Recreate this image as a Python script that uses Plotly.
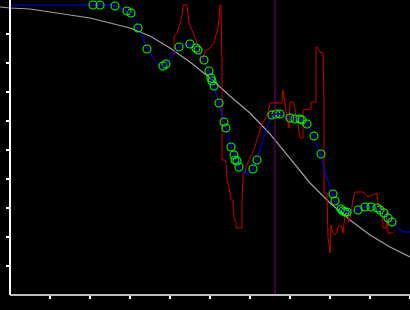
import plotly.graph_objects as go

# Smooth reference curve (gray)
gray_x = [-0.25, 0, 0.5, 1, 1.5, 2, 2.5, 3, 3.5, 4, 4.5, 5, 5.5, 6, 6.5, 7, 7.5, 8, 8.5, 9, 9.5, 10]
gray_y = [9.931, 9.897, 9.862, 9.759, 9.655, 9.552, 9.379, 9.207, 8.931, 8.517, 8.034, 7.483,
          6.862, 6.276, 5.552, 4.724, 3.862, 3.172, 2.586, 2.069, 1.655, 1.310]

# Fitted curve (blue)
blue_x = [0, 2.0, 2.5, 2.7, 2.875, 3.025, 3.15, 3.25, 3.425, 3.575, 3.7, 3.8, 3.9, 4.05, 4.225,
          4.375, 4.525, 4.675, 4.85, 5.0, 5.1, 5.225, 5.35, 5.45, 5.55, 5.675, 5.8, 5.925, 6.05,
          6.175, 6.3, 6.425, 6.55, 6.7, 6.875, 7.125, 7.325, 7.45, 7.6, 7.75, 7.9, 8.05, 8.175,
          8.3, 8.425, 8.55, 8.7, 8.9, 9.05, 9.2, 9.4, 9.575, 9.75, 9.875, 10.0]
blue_y = [10.0, 10.0, 10.0, 9.931, 9.828, 9.69, 9.414, 9.069, 8.517, 8.172, 7.966, 7.862, 7.931,
          8.241, 8.552, 8.655, 8.621, 8.448, 8.103, 7.655, 7.207, 6.621, 5.966, 5.552, 5.0,
          4.552, 4.241, 4.172, 4.31, 4.655, 5.241, 5.793, 6.172, 6.241, 6.172, 6.069, 6.034,
          5.862, 5.448, 4.862, 4.138, 3.483, 3.138, 2.897, 2.828, 2.897, 2.966, 3.034, 3.034,
          2.966, 2.759, 2.517, 2.241, 2.172, 2.172]

# Sample points (green circles)
pts_x = [2.075, 2.25, 2.625, 2.925, 3.025, 3.2, 3.425, 3.825, 3.9, 4.225, 4.5, 4.65, 4.7, 4.85,
         4.975, 5.025, 5.05, 5.1, 5.225, 5.35, 5.4, 5.525, 5.6, 5.625, 5.675, 5.725, 6.075,
         6.175, 6.55, 6.65, 6.75, 7.0, 7.125, 7.25, 7.3, 7.425, 7.6, 7.775, 8.075, 8.125,
         8.275, 8.325, 8.375, 8.425, 8.7, 8.875, 9.025, 9.175, 9.25, 9.35, 9.45, 9.55]
pts_y = [10.0, 10.0, 9.966, 9.793, 9.724, 9.207, 8.483, 7.897, 7.966, 8.552, 8.655, 8.517,
         8.448, 8.103, 7.724, 7.483, 7.379, 7.207, 6.621, 5.966, 5.759, 5.103, 4.828, 4.655,
         4.621, 4.414, 4.345, 4.655, 6.207, 6.241, 6.241, 6.103, 6.069, 6.069, 6.034, 5.897,
         5.483, 4.862, 3.483, 3.241, 2.966, 2.897, 2.862, 2.862, 2.931, 3.034, 3.034, 3.0,
         2.931, 2.828, 2.655, 2.517]

# Noisy measurement (red)
red_x = [4.1, 4.1, 4.175, 4.2, 4.25, 4.3, 4.325, 4.425, 4.45, 4.475, 4.525, 4.575, 4.625, 4.675,
         4.725, 4.75, 4.775, 4.825, 4.85, 4.9, 4.975, 5.05, 5.1, 5.15, 5.175, 5.2, 5.225, 5.25,
         5.275, 5.3, 5.3, 5.375, 5.4, 5.425, 5.475, 5.525, 5.575, 5.6, 5.65, 5.65, 5.8, 5.8,
         5.825, 5.875, 5.95, 6.075, 6.175, 6.25, 6.325, 6.425, 6.475, 6.5, 6.8, 6.825, 6.85,
         6.875, 6.925, 6.975, 7.0, 7.075, 7.125, 7.15, 7.2, 7.25, 7.325, 7.325, 7.525, 7.525,
         7.65, 7.65, 7.675, 7.75, 7.825, 7.85, 7.85, 7.925, 7.95, 8.0, 8.025, 8.075, 8.125,
         8.175, 8.2, 8.25, 8.3, 8.325, 8.375, 8.425, 8.475, 8.525, 8.575, 8.625, 8.825, 8.95,
         9.175, 9.2, 9.25, 9.3, 9.325, 9.4, 9.425, 9.45, 9.575]
red_y = [8.276, 8.897, 9.034, 9.138, 9.345, 9.655, 10.0, 10.0, 9.655, 9.379, 9.207, 9.034,
         8.862, 8.69, 8.517, 8.345, 8.034, 8.034, 8.276, 8.448, 8.483, 8.621, 8.69, 8.966,
         9.138, 9.207, 9.552, 10.0, 10.0, 8.034, 4.655, 4.655, 4.586, 3.966, 3.724, 3.276,
         3.276, 2.69, 2.517, 2.31, 2.31, 3.276, 4.138, 4.241, 4.586, 4.931, 5.345, 5.69, 5.931,
         6.207, 6.448, 6.621, 6.621, 7.069, 6.828, 6.552, 6.138, 5.759, 6.655, 6.655, 6.448,
         6.034, 5.931, 5.414, 5.414, 6.379, 6.414, 6.655, 6.655, 8.552, 8.552, 8.379, 8.345,
         6.724, 3.517, 3.517, 2.0, 1.448, 2.414, 2.138, 2.069, 2.172, 2.345, 2.414, 2.31,
         2.138, 2.759, 2.931, 2.517, 2.828, 3.276, 3.552, 3.552, 3.379, 3.517, 3.172, 2.862,
         3.103, 2.31, 2.31, 2.931, 2.138, 2.138]

marker_x = 6.625  # vertical cursor
x_ticks = [1, 2, 3, 4, 5, 6, 7, 8, 9, 10]
y_ticks = [1, 2, 3, 4, 5, 6, 7, 8, 9]

fig = go.Figure()
fig.add_trace(go.Scatter(x=gray_x, y=gray_y, mode="lines",
                         line=dict(color="#a0a0a0", width=1.2), hoverinfo="skip"))
fig.add_trace(go.Scatter(x=red_x, y=red_y, mode="lines",
                         line=dict(color="#cc0000", width=1), hoverinfo="skip"))
fig.add_trace(go.Scatter(x=blue_x, y=blue_y, mode="lines",
                         line=dict(color="#0000ff", width=1), hoverinfo="skip"))
fig.add_trace(go.Scatter(x=pts_x, y=pts_y, mode="markers",
                         marker=dict(symbol="circle-open", size=8, color="#00ff00",
                                     line=dict(width=1.1, color="#00ff00")), hoverinfo="skip"))
fig.add_trace(go.Scatter(x=pts_x, y=pts_y, mode="markers",
                         marker=dict(symbol="circle", size=2, color="#0000cc"), hoverinfo="skip"))

fig.add_shape(type="line", xref="x", yref="paper", x0=marker_x, x1=marker_x, y0=0, y1=1,
              line=dict(color="#800080", width=1), layer="above")
fig.add_shape(type="line", xref="x", yref="paper", x0=0, x1=10, y0=0, y1=0,
              line=dict(color="white", width=1.5), layer="above")

fig.update_layout(
    width=410, height=310,
    margin=dict(l=0, r=0, t=0, b=15),
    paper_bgcolor="black", plot_bgcolor="black",
    showlegend=False,
    xaxis=dict(range=[-0.25, 10], showgrid=False, zeroline=False, showline=False,
               tickvals=x_ticks, ticks="outside", ticklen=3, tickwidth=1.5, tickcolor="white",
               showticklabels=False),
    yaxis=dict(range=[0, 10.172], showgrid=False, zeroline=False, showline=True,
               linecolor="white", linewidth=1.5, anchor="free", position=10 / 410,
               tickvals=y_ticks, ticks="outside", ticklen=3, tickwidth=1.5, tickcolor="white",
               showticklabels=False),
)

fig.write_html("out.html")
